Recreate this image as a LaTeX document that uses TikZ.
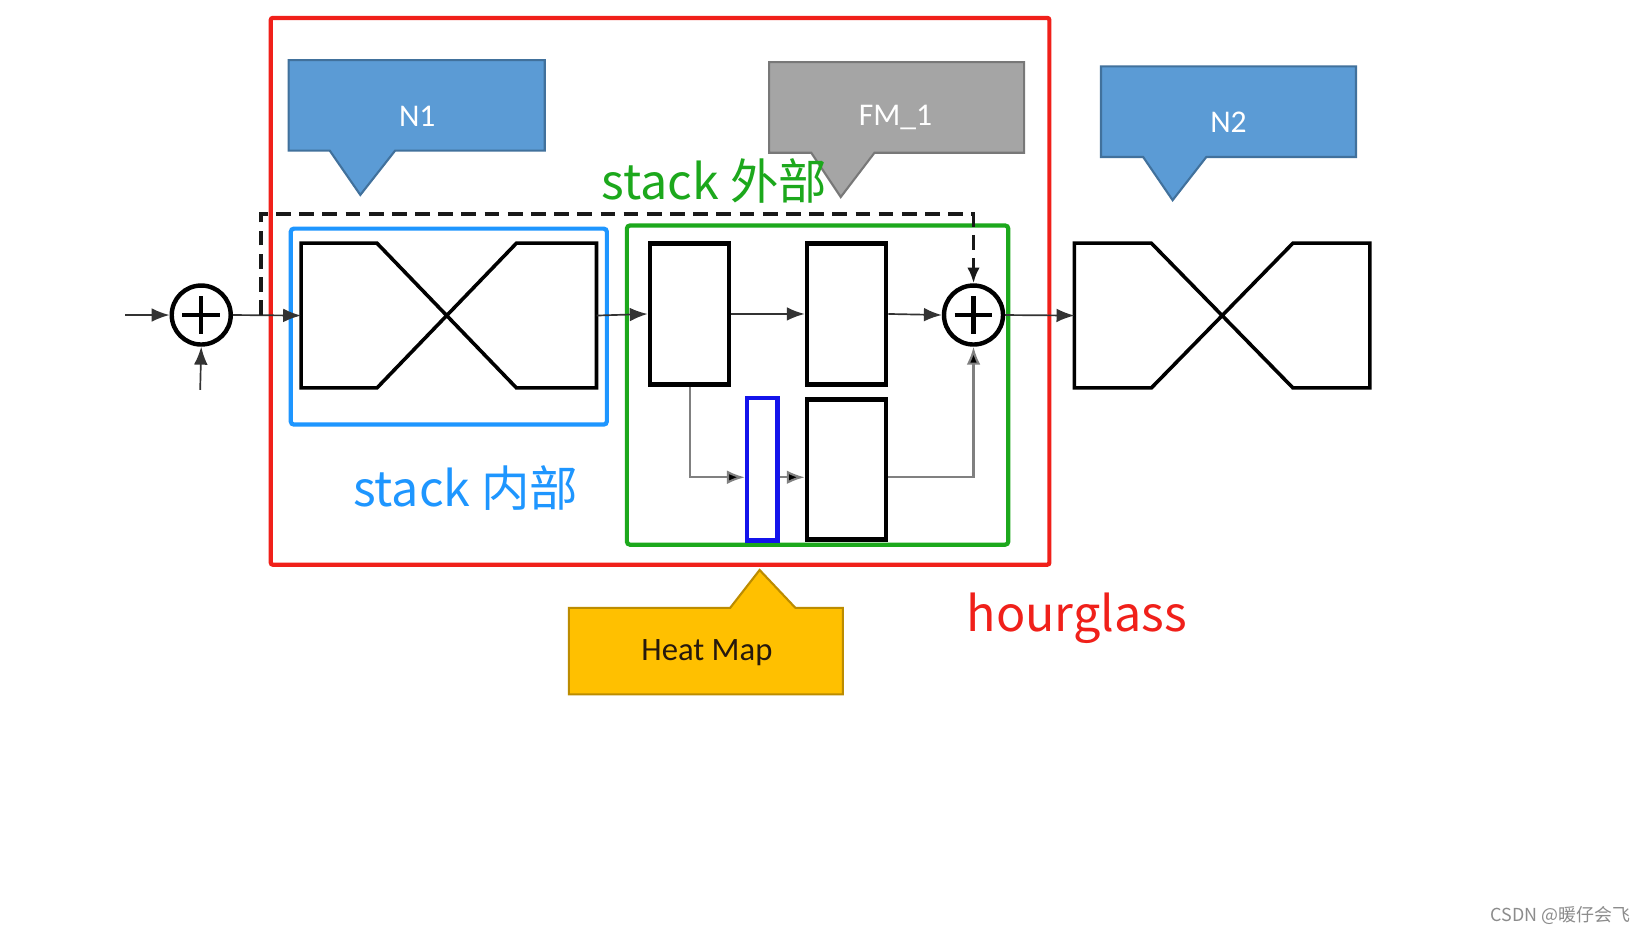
\documentclass[tikz,border=0pt]{standalone}
\usepackage{fontspec}
\setmainfont{Carlito}
\newfontfamily\cjk{Noto Sans CJK SC}
\usetikzlibrary{arrows.meta,calc}
\definecolor{hgred}{RGB}{240,32,26}
\definecolor{stgreen}{RGB}{28,168,28}
\definecolor{stblue}{RGB}{30,150,255}
\definecolor{nblue}{RGB}{20,20,235}
\definecolor{calblue}{RGB}{91,155,213}
\definecolor{calblueb}{RGB}{65,113,156}
\definecolor{calgray}{RGB}{165,165,165}
\definecolor{calgrayb}{RGB}{120,120,120}
\definecolor{calyel}{RGB}{255,192,0}
\definecolor{calyelb}{RGB}{188,140,0}
\begin{document}
\begin{tikzpicture}[x=1pt,y=-1pt,
  conn/.style={line width=1.6pt, draw=black!80, -{Latex[length=17pt,width=13pt]}},
  conngray/.style={line width=2pt, draw=black!50, -{Latex[length=17pt,width=13pt,fill=black]}},
  dashline/.style={line width=3.6pt, draw=black!90, dash pattern=on 14pt off 8pt, -{Latex[length=15pt,width=12pt]}},
  blk/.style={draw=black, line width=4.5pt, fill=white, minimum width=75pt, minimum height=134pt, inner sep=0pt},
  hgbox/.style={minimum width=280pt, minimum height=137pt, inner sep=0pt},
  hgline/.style={draw=black, line width=3.4pt, line join=miter},
  plusnode/.style={circle, draw=black, fill=white, line width=4.2pt, minimum size=56pt, inner sep=0pt},
  crossline/.style={line width=4.2pt, draw=black},
  callN/.style={fill=calblue, draw=calblueb, line width=2pt},
  callG/.style={fill=calgray, draw=calgrayb, line width=2pt},
  callY/.style={fill=calyel, draw=calyelb, line width=2pt},
  caltext/.style={text=white, font=\fontsize{30}{30}\selectfont},
  bigtext/.style={font=\cjk\fontsize{46}{46}\selectfont, inner sep=0pt}
]
\useasboundingbox[fill=white] (0,0) rectangle (1568,887);

% hourglass red frame
\draw[hgred, line width=4pt, rounded corners=2pt] (257,17) rectangle (996,536);

% callouts
\draw[callN] (274,57) -- (517,57) -- (517,143) -- (375,143) -- (342,185) -- (313,143) -- (274,143) -- cycle;
\node[caltext] (n1) at (396,110) {N1};
\draw[callG] (730,59) -- (972,59) -- (972,145) -- (830,145) -- (798,187) -- (770,145) -- (730,145) -- cycle;
\node[caltext] (fm1) at (850,111) {FM\_1};
\draw[callN] (1045,63) -- (1287,63) -- (1287,149) -- (1145,149) -- (1113,190) -- (1085,149) -- (1045,149) -- cycle;
\node[caltext] (n2) at (1166,116) {N2};
\draw[callY] (540,577) -- (693,577) -- (721,541) -- (755,577) -- (800,577) -- (800,659) -- (540,659) -- cycle;
\node[text=black!80!brown, font=\fontsize{31}{31}\selectfont] (hm) at (671,619) {Heat Map};

% frames
\draw[stblue, line width=4pt, rounded corners=3pt] (276,217) rectangle (576,403);
\draw[stgreen, line width=4pt, rounded corners=3pt] (595,214) rectangle (957,517);

% blocks
\node[plusnode] (ox1) at (191,299) {};
\draw[crossline] ($(ox1.center)+(-18,0)$) -- ($(ox1.center)+(18,0)$);
\draw[crossline] ($(ox1.center)+(0,-18)$) -- ($(ox1.center)+(0,18)$);
\node[plusnode] (ox2) at (924,299) {};
\draw[crossline] ($(ox2.center)+(-18,0)$) -- ($(ox2.center)+(18,0)$);
\draw[crossline] ($(ox2.center)+(0,-18)$) -- ($(ox2.center)+(0,18)$);

\node[hgbox] (hg1) at (426,299.5) {};
\draw[hgline] (hg1.north west) -- ++(72,0) -- ($(hg1.south east)+(-76,0)$) -- (hg1.south east) -- (hg1.north east) -- ++(-76,0) -- ($(hg1.south west)+(72,0)$) -- (hg1.south west) -- cycle;
\node[hgbox] (hg2) at (1160,299.5) {};
\draw[hgline] (hg2.north west) -- ++(73,0) -- ($(hg2.south east)+(-73,0)$) -- (hg2.south east) -- (hg2.north east) -- ++(-73,0) -- ($(hg2.south west)+(73,0)$) -- (hg2.south west) -- cycle;

\node[blk] (ra) at (654.5,298) {};
\node[blk] (rb) at (803.5,298) {};
\node[blk, minimum height=133pt] (rc) at (803.5,445.5) {};
\node[draw=nblue, line width=4pt, fill=white, minimum width=29pt, minimum height=135pt, inner sep=0pt] (bn) at (723.5,445.5) {};

% connectors
\coordinate (in1) at (119,299);
\coordinate (in2) at (190,370);
\coordinate (split) at (248,299);
\coordinate (dtop) at (924,203);
\draw[conn] (in1) -- (ox1.west);
\draw[conn] (in2) -- (ox1.south);
\draw[conn] (ox1.east) -- (hg1.west);
\draw[dashline] (split) |- (dtop) -- (ox2.north);
\draw[conn] (hg1.east) -- (ra.west);
\draw[conn] (ra.east) -- (rb.west);
\draw[conn] (rb.east) -- (ox2.west);
\draw[conngray] (ra.south) |- ([yshift=-7.5pt]bn.west);
\draw[conngray] ([yshift=-7.5pt]bn.east) -- ([yshift=-7.5pt]rc.west);
\draw[conngray] ([yshift=-7.5pt]rc.east) -| (ox2.south);
\draw[conn] (ox2.east) -- (hg2.west);

% labels
\node[bigtext, text=stgreen] (lout) at (678,172) {stack 外部};
\node[bigtext, text=stblue] (lin) at (442,463) {stack 内部};
\node[bigtext, text=hgred] (lhg) at (1022,587) {hourglass};
\node[font=\cjk\fontsize{17}{17}\selectfont, text=black!45] (wm) at (1481,869) {CSDN @暖仔会飞};
\end{tikzpicture}
\end{document}
